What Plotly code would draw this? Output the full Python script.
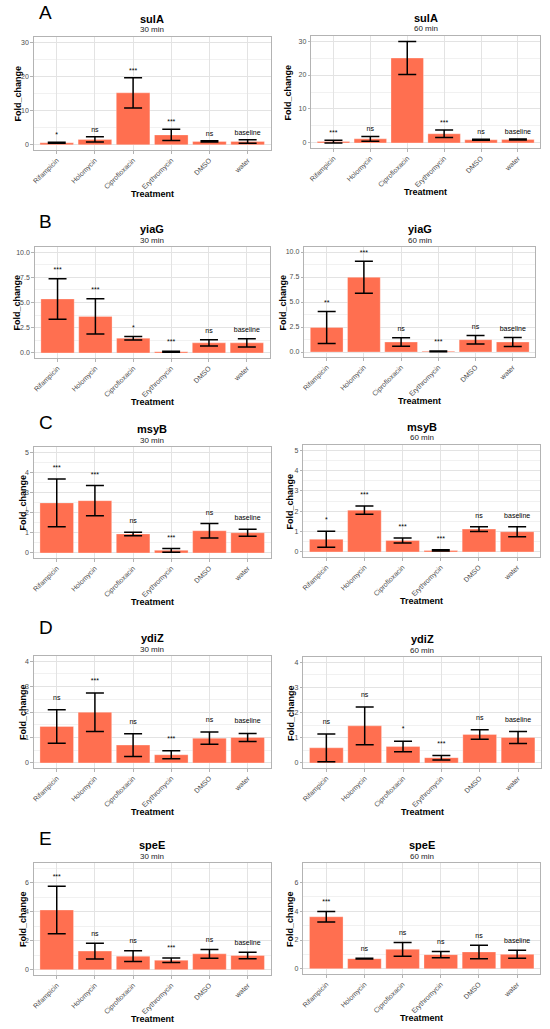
import plotly.graph_objects as go

# ---------------- data ----------------
treatments = ["Rifampicin", "Holomycin", "Ciprofloxacin", "Erythromycin", "DMSO", "water"]
genes = ["sulA", "yiaG", "msyB", "ydiZ", "speE"]
panel_letters = ["A", "B", "C", "D", "E"]
times = ["30 min", "60 min"]

sulA_30_mean = [0.6, 1.6, 15.2, 2.9, 1.0, 1.0]
sulA_30_err = [0.15, 0.75, 4.4, 1.65, 0.2, 0.5]
sulA_30_sig = ["*", "ns", "***", "***", "ns", "baseline"]
sulA_60_mean = [0.4, 1.2, 25.0, 2.7, 0.9, 1.0]
sulA_60_err = [0.4, 0.7, 4.85, 1.1, 0.15, 0.15]
sulA_60_sig = ["***", "ns", "", "***", "ns", "baseline"]

yiaG_30_mean = [5.35, 3.62, 1.46, 0.13, 1.0, 1.0]
yiaG_30_err = [2.0, 1.75, 0.17, 0.05, 0.3, 0.42]
yiaG_30_sig = ["***", "***", "*", "***", "ns", "baseline"]
yiaG_60_mean = [2.46, 7.47, 1.0, 0.07, 1.23, 1.0]
yiaG_60_err = [1.6, 1.6, 0.42, 0.04, 0.43, 0.45]
yiaG_60_sig = ["**", "***", "ns", "***", "ns", "baseline"]

msyB_30_mean = [2.48, 2.59, 0.94, 0.13, 1.1, 1.0]
msyB_30_err = [1.18, 0.75, 0.09, 0.09, 0.36, 0.17]
msyB_30_sig = ["***", "***", "ns", "***", "ns", "baseline"]
msyB_60_mean = [0.62, 2.05, 0.56, 0.07, 1.12, 0.99]
msyB_60_err = [0.39, 0.2, 0.12, 0.03, 0.12, 0.24]
msyB_60_sig = ["*", "***", "***", "***", "ns", "baseline"]

ydiZ_30_mean = [1.43, 1.99, 0.7, 0.32, 0.97, 1.0]
ydiZ_30_err = [0.66, 0.76, 0.45, 0.16, 0.24, 0.16]
ydiZ_30_sig = ["ns", "***", "ns", "***", "ns", "baseline"]
ydiZ_60_mean = [0.6, 1.47, 0.65, 0.21, 1.13, 1.01]
ydiZ_60_err = [0.55, 0.75, 0.21, 0.09, 0.19, 0.24]
ydiZ_60_sig = ["ns", "ns", "*", "***", "ns", "baseline"]

speE_30_mean = [4.12, 1.28, 0.93, 0.65, 1.09, 0.98]
speE_30_err = [1.64, 0.55, 0.37, 0.16, 0.31, 0.22]
speE_30_sig = ["***", "ns", "ns", "***", "ns", "baseline"]
speE_60_mean = [3.62, 0.7, 1.35, 0.98, 1.17, 1.0]
speE_60_err = [0.37, 0.03, 0.48, 0.22, 0.47, 0.28]
speE_60_sig = ["***", "ns", "ns", "ns", "ns", "baseline"]

sulA_ticks = [0, 10, 20, 30]
yiaG_ticks = [0, 2.5, 5, 7.5, 10]
msyB_ticks = [0, 1, 2, 3, 4, 5]
ydiZ_ticks = [0, 1, 2, 3, 4]
speE_ticks = [0, 2, 4, 6]

# ---------------- layout constants ----------------
W, H = 550, 1029
BAR = "#FF6F50"
FONT = "Liberation Sans, Arial, sans-serif"

rows = [
    dict(series=[(sulA_30_mean, sulA_30_err, sulA_30_sig), (sulA_60_mean, sulA_60_err, sulA_60_sig)],
         ticks=sulA_ticks, fmt="", rng=[-1.5, 31.5], minor=5, off=2.0,
         px=[(31, 269, 37, 150), (310, 540, 36, 148)], letter_y=13, ylab_x=[16, 287]),
    dict(series=[(yiaG_30_mean, yiaG_30_err, yiaG_30_sig), (yiaG_60_mean, yiaG_60_err, yiaG_60_sig)],
         ticks=yiaG_ticks, fmt=".1f", rng=[-0.5, 10.5], minor=1.25, off=0.85,
         px=[(32, 268, 247, 358), (303, 535, 247, 357)], letter_y=222, ylab_x=[15, 282]),
    dict(series=[(msyB_30_mean, msyB_30_err, msyB_30_sig), (msyB_60_mean, msyB_60_err, msyB_60_sig)],
         ticks=msyB_ticks, fmt="", rng=[-0.25, 5.25], minor=0.5, off=0.53,
         px=[(31, 269, 447, 558), (302, 540, 445, 557)], letter_y=422, ylab_x=[20, 289]),
    dict(series=[(ydiZ_30_mean, ydiZ_30_err, ydiZ_30_sig), (ydiZ_60_mean, ydiZ_60_err, ydiZ_60_sig)],
         ticks=ydiZ_ticks, fmt="", rng=[-0.2, 4.2], minor=0.5, off=0.46,
         px=[(31, 269, 656, 768), (302, 541, 657, 768)], letter_y=627, ylab_x=[20, 289]),
    dict(series=[(speE_30_mean, speE_30_err, speE_30_sig), (speE_60_mean, speE_60_err, speE_60_sig)],
         ticks=speE_ticks, fmt="", rng=[-0.37, 7.37], minor=1, off=0.65,
         px=[(31, 269, 863, 975), (302, 540, 863, 974)], letter_y=838, ylab_x=[20, 288]),
]


def fx(p):
    return p / W


def fy(p):
    return 1 - p / H


fig = go.Figure()
annotations = []
layout = {}
k = 0
for r, row in enumerate(rows):
    annotations.append(dict(text=panel_letters[r], x=fx(43), y=fy(row["letter_y"]), xref="paper", yref="paper",
                            showarrow=False, xanchor="center", yanchor="middle",
                            font=dict(size=19, color="black", family=FONT)))
    for c in range(2):
        k += 1
        mean, err, sig = row["series"][c]
        x0, x1, y0, y1 = row["px"][c]
        xa = "x" if k == 1 else f"x{k}"
        ya = "y" if k == 1 else f"y{k}"
        fig.add_trace(go.Bar(x=treatments, y=mean, xaxis=xa, yaxis=ya, width=0.88,
                             marker=dict(color=BAR, line=dict(color="rgba(255,255,255,0.6)", width=0.5)),
                             error_y=dict(type="data", array=err, visible=True, color="black",
                                          thickness=1.5, width=9),
                             showlegend=False, hoverinfo="skip"))
        fig.add_trace(go.Scatter(x=treatments, y=[m + e + row["off"] for m, e in zip(mean, err)],
                                 text=sig, mode="text", textposition="middle center",
                                 textfont=dict(size=7, color="black", family=FONT),
                                 xaxis=xa, yaxis=ya, showlegend=False, hoverinfo="skip",
                                 cliponaxis=False))
        layout["xaxis" if k == 1 else f"xaxis{k}"] = dict(
            domain=[fx(x0), fx(x1)], anchor=ya, type="category", range=[-0.6, 5.6],
            tickangle=-45, tickfont=dict(size=7, color="#4D4D4D", family=FONT),
            showgrid=True, gridcolor="#E3E3E3", gridwidth=0.8,
            showline=True, mirror=True, linecolor="#B3B3B3", linewidth=1.2,
            ticks="outside", ticklen=2.5, tickcolor="#B3B3B3", tickwidth=0.8, zeroline=False)
        layout["yaxis" if k == 1 else f"yaxis{k}"] = dict(
            domain=[fy(y1), fy(y0)], anchor=xa, range=row["rng"], tickvals=row["ticks"],
            tickformat=row["fmt"], tickfont=dict(size=7, color="#4D4D4D", family=FONT),
            showgrid=True, gridcolor="#E3E3E3", gridwidth=0.8,
            minor=dict(dtick=row["minor"], showgrid=True, gridcolor="#F1F1F1", gridwidth=0.6, ticks=""),
            showline=True, mirror=True, linecolor="#B3B3B3", linewidth=1.2,
            ticks="outside", ticklen=2.5, tickcolor="#B3B3B3", tickwidth=0.8, zeroline=False)
        cx = fx((x0 + x1) / 2)
        annotations.append(dict(text="<b>" + genes[r] + "</b>", x=cx, y=fy(y0 - 18), xref="paper", yref="paper",
                                showarrow=False, xanchor="center", yanchor="middle",
                                font=dict(size=11, color="black", family=FONT)))
        annotations.append(dict(text=times[c], x=cx, y=fy(y0 - 7), xref="paper", yref="paper",
                                showarrow=False, xanchor="center", yanchor="middle",
                                font=dict(size=8, color="#222222", family=FONT)))
        annotations.append(dict(text="<b>Treatment</b>", x=cx, y=fy(y1 + 44), xref="paper", yref="paper",
                                showarrow=False, xanchor="center", yanchor="middle",
                                font=dict(size=9, color="black", family=FONT)))
        annotations.append(dict(text="<b>Fold_change</b>", x=fx(row["ylab_x"][c]), y=fy((y0 + y1) / 2),
                                xref="paper", yref="paper", textangle=-90,
                                showarrow=False, xanchor="center", yanchor="middle",
                                font=dict(size=9, color="black", family=FONT)))

fig.update_layout(width=W, height=H, margin=dict(l=0, r=0, t=0, b=0),
                  paper_bgcolor="white", plot_bgcolor="white", annotations=annotations,
                  font=dict(family=FONT), **layout)

fig.write_html("out.html", config={"displayModeBar": False},
               post_script="document.body.style.margin='0';")
